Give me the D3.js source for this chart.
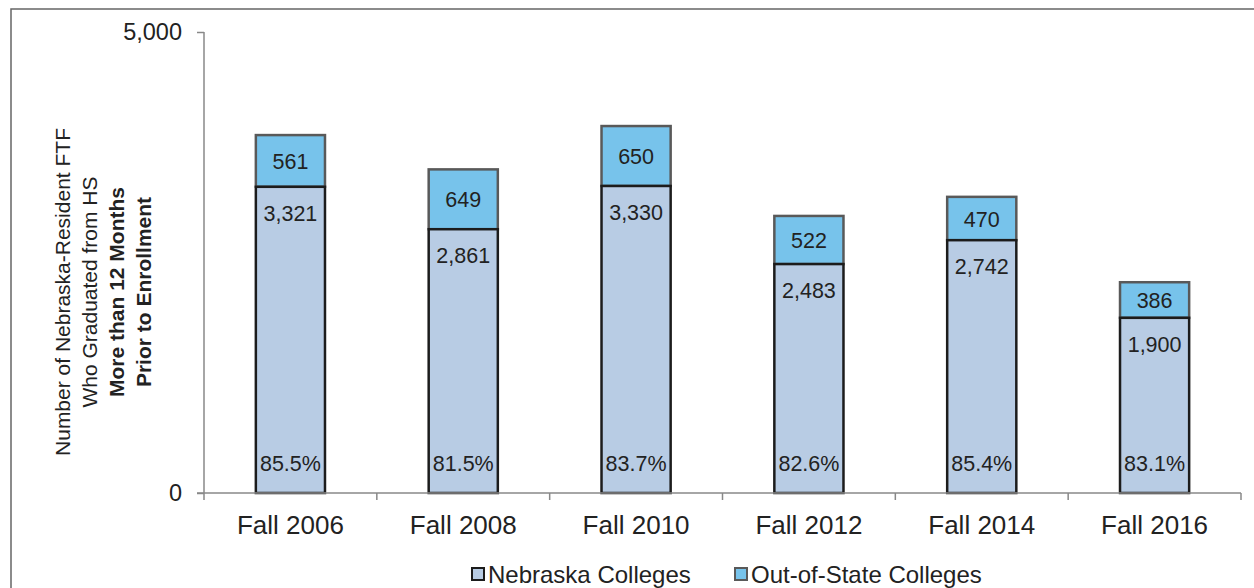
<!DOCTYPE html>
<html lang="en">
<head>
  <meta charset="UTF-8">
  <title>Nebraska-Resident FTF Stacked Bars</title>
  <script src="https://d3js.org/d3.v7.min.js"></script>
  <style>
    body { margin: 0; background: #fff; }
    svg text { font-family: "Liberation Sans", Arial, sans-serif; fill: #222; }
  </style>
</head>
<body>
  <svg width="1254" height="588"></svg>

  <script>
    // Chart data
    const terms = ["Fall 2006", "Fall 2008", "Fall 2010", "Fall 2012", "Fall 2014", "Fall 2016"];
    const nebraska = [3321, 2861, 3330, 2483, 2742, 1900];
    const outOfState = [561, 649, 650, 522, 470, 386];
    const pctNebraska = ["85.5%", "81.5%", "83.7%", "82.6%", "85.4%", "83.1%"];
    const yTicks = [0, 5000];
    const seriesNames = ["Nebraska Colleges", "Out-of-State Colleges"];
    const titleLines = [
      { text: "Number of Nebraska-Resident FTF", bold: false },
      { text: "Who Graduated from HS", bold: false },
      { text: "More than 12 Months", bold: true },
      { text: "Prior to Enrollment", bold: true }
    ];

    const svg = d3.select("svg");
    const margin = {top: 32, right: 13, bottom: 95, left: 204};
    const width = 1254, height = 588;

    const fills = ["#b8cce4", "#77c3eb"];
    const strokes = ["#1c1c1c", "#595959"];

    // outer frame
    svg.append("rect")
      .attr("x", 11).attr("y", 9)
      .attr("width", 1400).attr("height", 700)
      .attr("fill", "none")
      .attr("stroke", "#666")
      .attr("stroke-width", 1.5);

    const x = d3.scaleBand()
      .domain(terms)
      .range([margin.left, width - margin.right])
      .paddingInner(0.6)
      .paddingOuter(0.3);

    const xBound = d3.scaleLinear()
      .domain([0, terms.length])
      .range([margin.left, width - margin.right]);

    const y = d3.scaleLinear()
      .domain([0, 5000])
      .range([height - margin.bottom, margin.top]);

    // y axis
    const yAxis = svg.append("g")
      .attr("transform", `translate(${margin.left},0)`)
      .call(d3.axisLeft(y).tickValues(yTicks).tickSize(7).tickPadding(15).tickFormat(d3.format(",")));
    yAxis.selectAll("line, path").attr("stroke", "#888").attr("stroke-width", 1.5);
    yAxis.select(".domain").attr("d", `M0,${y(5000)}V${y(0)}`);
    yAxis.selectAll("text").style("font-size", "23.5px").attr("fill", "#222");

    // bars
    const rows = terms.map((t, i) => ({term: t, ne: nebraska[i], out: outOfState[i], pct: pctNebraska[i]}));
    const g = svg.selectAll("g.bar")
      .data(rows)
      .enter().append("g")
      .attr("class", "bar");

    g.append("rect")
      .attr("x", d => x(d.term))
      .attr("y", d => y(d.ne + d.out))
      .attr("width", x.bandwidth())
      .attr("height", d => y(d.ne) - y(d.ne + d.out))
      .attr("fill", fills[1])
      .attr("stroke", strokes[1])
      .attr("stroke-width", 2.5);

    g.append("rect")
      .attr("x", d => x(d.term))
      .attr("y", d => y(d.ne))
      .attr("width", x.bandwidth())
      .attr("height", d => y(0) - y(d.ne))
      .attr("fill", fills[0])
      .attr("stroke", strokes[0])
      .attr("stroke-width", 2.5);

    const cx = d => x(d.term) + x.bandwidth() / 2;

    g.append("text")
      .attr("x", cx)
      .attr("y", d => (y(d.ne) + y(d.ne + d.out)) / 2 + 8)
      .attr("text-anchor", "middle")
      .style("font-size", "21.5px")
      .text(d => d3.format(",")(d.out));

    g.append("text")
      .attr("x", cx)
      .attr("y", d => y(d.ne) + 34)
      .attr("text-anchor", "middle")
      .style("font-size", "21.5px")
      .text(d => d3.format(",")(d.ne));

    g.append("text")
      .attr("x", cx)
      .attr("y", y(0) - 22)
      .attr("text-anchor", "middle")
      .style("font-size", "21.5px")
      .text(d => d.pct);

    // x axis
    const xa = svg.append("g");
    xa.append("line")
      .attr("x1", margin.left - 7).attr("x2", width - margin.right)
      .attr("y1", y(0)).attr("y2", y(0))
      .attr("stroke", "#888").attr("stroke-width", 1.5);
    xa.selectAll("line.tick")
      .data(d3.range(terms.length + 1))
      .enter().append("line")
      .attr("class", "tick")
      .attr("x1", d => xBound(d)).attr("x2", d => xBound(d))
      .attr("y1", y(0)).attr("y2", y(0) + 7)
      .attr("stroke", "#888").attr("stroke-width", 1.5);
    xa.selectAll("text")
      .data(terms)
      .enter().append("text")
      .attr("x", d => x(d) + x.bandwidth() / 2)
      .attr("y", y(0) + 41)
      .attr("text-anchor", "middle")
      .style("font-size", "26px")
      .text(d => d);

    // y title
    const title = svg.append("text")
      .attr("transform", "translate(0,292) rotate(-90)")
      .attr("text-anchor", "middle")
      .style("font-size", "21px");
    titleLines.forEach((l, i) => {
      title.append("tspan")
        .attr("x", 0)
        .attr("y", 70 + i * 27)
        .style("font-weight", l.bold ? "bold" : "normal")
        .text(l.text);
    });

    // legend
    const legendX = [472, 735];
    const lg = svg.selectAll("g.legend")
      .data(seriesNames)
      .enter().append("g")
      .attr("class", "legend")
      .attr("transform", (d, i) => `translate(${legendX[i]},568)`);
    lg.append("rect")
      .attr("width", 12).attr("height", 12)
      .attr("fill", (d, i) => fills[i])
      .attr("stroke", (d, i) => strokes[i])
      .attr("stroke-width", 2);
    lg.append("text")
      .attr("x", 16)
      .attr("y", 15)
      .style("font-size", "24px")
      .text(d => d);
  </script>
</body>
</html>
